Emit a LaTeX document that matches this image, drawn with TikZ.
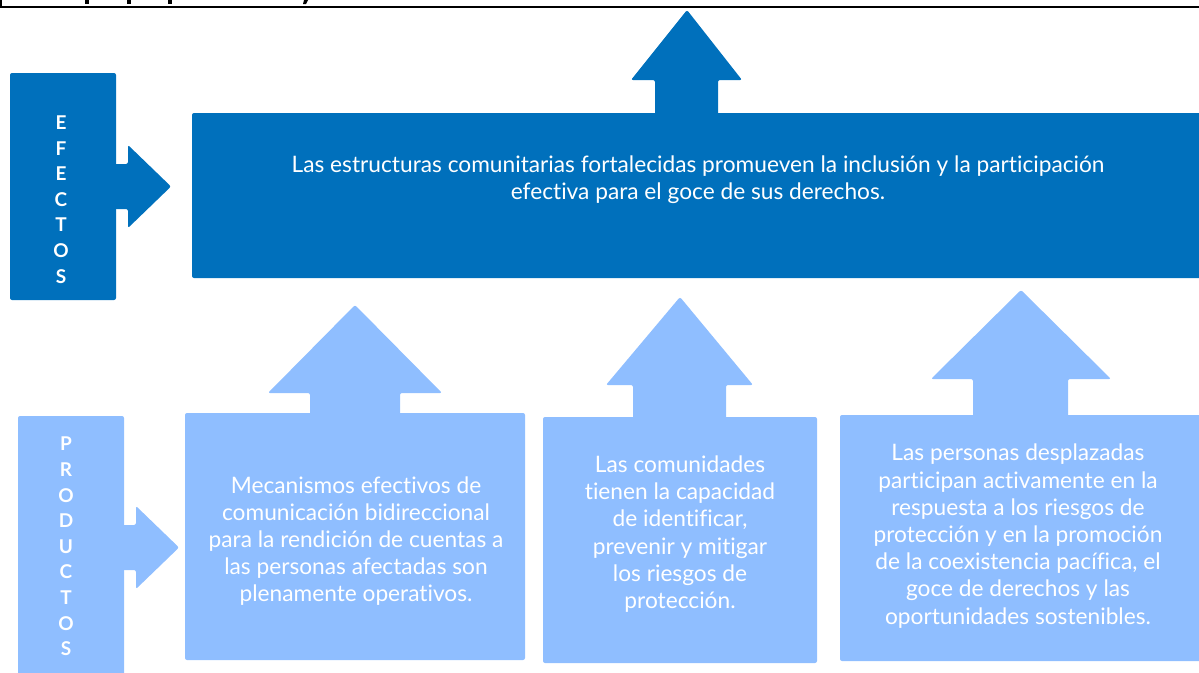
\documentclass[tikz,border=0pt]{standalone}
\usepackage{fontspec}
\setmainfont[Ligatures=NoCommon]{Lato}
\definecolor{dblue}{RGB}{0,112,188}
\definecolor{lblue}{RGB}{143,190,255}
\tikzset{
  dfill/.style={fill=dblue, rounded corners=2pt},
  lfill/.style={fill=lblue, rounded corners=2pt},
  maintext/.style={text=white, font=\fontsize{22.7}{27.2}\selectfont, align=center, inner sep=0pt},
  vertlab/.style={text=white, font=\fontsize{19}{25.6}\selectfont\bfseries, align=center, inner sep=0pt},
}
\begin{document}
\begin{tikzpicture}[x=1pt,y=-1pt]
\useasboundingbox (0,0) rectangle (1199,672);
\clip (0,0) rectangle (1199,672);
% top cut-off line
\draw[black, line width=2pt] (0,7) -- (1199,7);
\draw[black, line width=2pt] (1,0) -- (1,7);
\fill[black] (85,0) rectangle (88.5,4);
\fill[black] (127,0) rectangle (130.5,4);
\fill[black] (168,0) rectangle (171.5,4);
\fill[black] (304,0) -- (308,0) -- (306,4) -- (303,4) -- cycle;

% EFECTOS
\path[dfill] (10,73) rectangle (116,300);
\path[dfill] (110,164) -- (128,164) -- (128,145) -- (171,186.5) -- (128,228) -- (128,209) -- (110,209) -- cycle;
\node[vertlab] (efectos) at (61,199.5) {E\\F\\E\\C\\T\\O\\S};

% top box
\path[dfill] (192,113) rectangle (1210,278);
\path[dfill] (655,120) -- (655,80) -- (631,80) -- (687,10) -- (742,80) -- (718,80) -- (718,120) -- cycle;
\node[maintext] (efecto) at (698,180) {Las estructuras comunitarias fortalecidas promueven la inclusión y la participación\\efectiva para el goce de sus derechos.};

% PRODUCTOS
\path[lfill] (18,416) rectangle (124,690);
\path[lfill] (118,525) -- (136,525) -- (136,506) -- (179,547.5) -- (136,589) -- (136,570) -- (118,570) -- cycle;
\node[vertlab] (productos) at (66,546.5) {P\\R\\O\\D\\U\\C\\T\\O\\S};

% product boxes
\path[lfill] (185,413) rectangle (525,660);
\path[lfill] (310,420) -- (310,393) -- (268,393) -- (355,305) -- (442,393) -- (400,393) -- (400,420) -- cycle;
\node[maintext] (p1) at (356,541) {Mecanismos efectivos de\\comunicación bidireccional\\para la rendición de cuentas a\\las personas afectadas son\\plenamente operativos.};

\path[lfill] (543,417) rectangle (817,663);
\path[lfill] (633,424) -- (633,385) -- (606,385) -- (680,297) -- (753,385) -- (726,385) -- (726,424) -- cycle;
\node[maintext] (p2) at (680,534) {Las comunidades\\tienen la capacidad\\de identificar,\\prevenir y mitigar\\los riesgos de\\protección.};

\path[lfill] (840,415) rectangle (1210,661);
\path[lfill] (973,422) -- (973,379) -- (931,379) -- (1021,290) -- (1111,379) -- (1068,379) -- (1068,422) -- cycle;
\node[maintext] (p3) at (1018,536) {Las personas desplazadas\\participan activamente en la\\respuesta a los riesgos de\\protección y en la promoción\\de la coexistencia pacífica, el\\goce de derechos y las\\oportunidades sostenibles.};
\end{tikzpicture}
\end{document}
